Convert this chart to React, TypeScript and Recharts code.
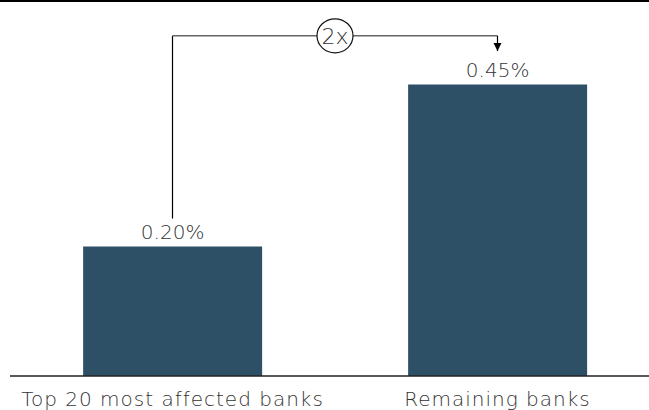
import React from 'react';
import { BarChart, Bar, XAxis, YAxis, LabelList, ReferenceLine, ReferenceDot } from 'recharts';

const categories = ['Top 20 most affected banks', 'Remaining banks'];
const values = [0.2, 0.45];
const valueLabels = ['0.20%', '0.45%'];
const ratioLabel = '2x';

const data = categories.map((name, i) => ({ name, value: values[i], label: valueLabels[i] }));

const FONT = '"DejaVu Sans", sans-serif';
const TEXT = '#333333';
const BAR = '#2d5066';

const bracketY = 0.525;
const leftFootY = 0.243;
const arrowTipY = 0.5015;

const CircleLabel = (props: any) => {
  const vb = props.viewBox || {};
  const cx = (vb.x || 0) + (vb.width || 0) / 2;
  const cy = vb.y || 0;
  return (
    <g>
      <ellipse cx={cx} cy={cy} rx={18} ry={17} fill="#fff" stroke="#111" strokeWidth={1.2} />
      <text x={cx} y={cy} dy="0.37em" textAnchor="middle" fontFamily={FONT} fontWeight={200} fontSize={22} fill={TEXT}>
        {ratioLabel}
      </text>
    </g>
  );
};

const Arrow = (props: any) => {
  const { cx, cy } = props;
  return <path d={`M${cx - 4},${cy - 8} L${cx + 4},${cy - 8} L${cx},${cy} Z`} fill="#000" />;
};

export default function App() {
  return (
    <div style={{ position: 'absolute', left: 0, top: 0, width: 649, height: 410, background: '#fff' }}>
      <div style={{ position: 'absolute', left: 0, top: 0, width: 649, height: 2, background: '#000' }} />
      <BarChart width={649} height={410} data={data} margin={{ top: 52, right: -11, left: 10, bottom: 4 }} barCategoryGap="22.5%">
        <XAxis
          dataKey="name"
          height={30}
          tickLine={false}
          tickMargin={10}
          axisLine={{ stroke: '#222', strokeWidth: 1.5 }}
          tick={{ fill: TEXT, fontSize: 20, fontFamily: FONT, fontWeight: 200, letterSpacing: 1 }}
          interval={0}
        />
        <YAxis hide domain={[0, 0.5]} />
        <Bar dataKey="value" fill={BAR} isAnimationActive={false}>
          <LabelList dataKey="label" position="top" offset={7} fill={TEXT} fontSize={20} fontFamily={FONT} fontWeight={200} />
        </Bar>
        <ReferenceLine
          segment={[{ x: categories[0], y: leftFootY }, { x: categories[0], y: bracketY }]}
          stroke="#000"
          strokeWidth={1.2}
          ifOverflow="visible"
        />
        <ReferenceLine
          segment={[{ x: categories[0], y: bracketY }, { x: categories[1], y: bracketY }]}
          stroke="#666"
          strokeWidth={1.5}
          ifOverflow="visible"
          label={<CircleLabel />}
        />
        <ReferenceLine
          segment={[{ x: categories[1], y: bracketY }, { x: categories[1], y: arrowTipY }]}
          stroke="#000"
          strokeWidth={1.2}
          ifOverflow="visible"
        />
        <ReferenceDot x={categories[1]} y={arrowTipY} ifOverflow="visible" shape={<Arrow />} />
      </BarChart>
    </div>
  );
}
